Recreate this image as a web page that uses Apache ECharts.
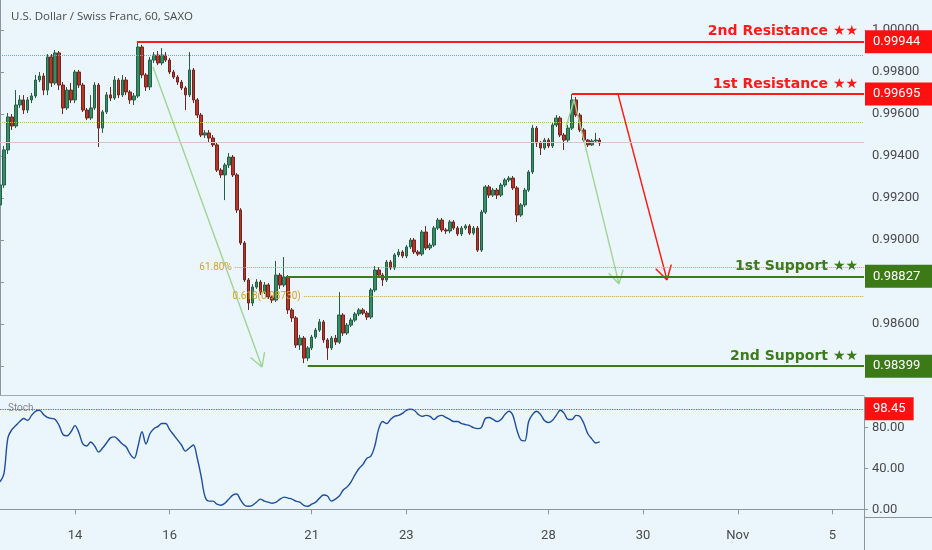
<!DOCTYPE html>
<html><head><meta charset="utf-8">
<script src="https://cdn.jsdelivr.net/npm/echarts@6/dist/echarts.min.js"></script>
<style>html,body{margin:0;padding:0;background:#eaf6fc}#c{width:932px;height:550px}</style>
</head><body><div id="c"></div>
<script>
// ---- time axis (2-hour slots, trading days only) ----
const tradingDays = ['Oct 10','Oct 11','Oct 14','Oct 15','Oct 16','Oct 17','Oct 18','Oct 21','Oct 22','Oct 23','Oct 24','Oct 25','Oct 28','Oct 29','Oct 30','Oct 31','Nov 1','Nov 4','Nov 5','Nov 6'];
const firstHour = 10;
const slotHours = 2;
const slotCount = 220;
const tickDays = ['Oct 14','Oct 16','Oct 21','Oct 23','Oct 28','Oct 30','Nov 1','Nov 5'];
const tickLabels = ['14','16','21','23','28','30','Nov','5'];
const priceTicks = [0.984,0.986,0.988,0.990,0.992,0.994,0.996,0.998,1.000];
const stochTicks = [0,40,80];

// ---- USDCHF candles [open, close, low, high] ----
const candles = [
[0.99167,0.99262,0.99143,0.99281],[0.99262,0.99429,0.99248,0.99448],[0.99429,0.99586,0.99410,0.99605],[0.99586,0.99543,0.99524,0.99600],
[0.99543,0.99643,0.99533,0.99714],[0.99643,0.99667,0.99629,0.99690],[0.99667,0.99619,0.99600,0.99690],[0.99619,0.99667,0.99605,0.99681],
[0.99667,0.99686,0.99652,0.99700],[0.99686,0.99762,0.99676,0.99786],[0.99762,0.99781,0.99752,0.99800],[0.99781,0.99714,0.99690,0.99795],
[0.99714,0.99872,0.99690,0.99886],[0.99872,0.99748,0.99729,0.99886],[0.99748,0.99891,0.99738,0.99905],[0.99891,0.99738,0.99714,0.99900],
[0.99738,0.99629,0.99600,0.99752],[0.99629,0.99714,0.99619,0.99729],[0.99714,0.99667,0.99652,0.99748],[0.99667,0.99800,0.99652,0.99810],
[0.99800,0.99738,0.99724,0.99810],[0.99738,0.99619,0.99610,0.99748],[0.99619,0.99581,0.99571,0.99629],[0.99581,0.99629,0.99571,0.99690],
[0.99629,0.99738,0.99619,0.99752],[0.99738,0.99533,0.99443,0.99748],[0.99533,0.99610,0.99510,0.99619],[0.99610,0.99691,0.99600,0.99705],
[0.99691,0.99676,0.99662,0.99729],[0.99676,0.99762,0.99667,0.99781],[0.99762,0.99691,0.99676,0.99771],[0.99691,0.99762,0.99681,0.99786],
[0.99762,0.99705,0.99690,0.99776],[0.99705,0.99667,0.99648,0.99714],[0.99667,0.99686,0.99643,0.99700],[0.99686,0.99919,0.99676,0.99944],
[0.99919,0.99786,0.99771,0.99929],[0.99786,0.99729,0.99710,0.99795],[0.99729,0.99857,0.99714,0.99872],[0.99857,0.99881,0.99843,0.99895],
[0.99881,0.99843,0.99833,0.99900],[0.99843,0.99881,0.99833,0.99914],[0.99881,0.99857,0.99848,0.99895],[0.99857,0.99800,0.99790,0.99867],
[0.99800,0.99776,0.99767,0.99810],[0.99776,0.99752,0.99738,0.99786],[0.99752,0.99724,0.99714,0.99762],[0.99724,0.99691,0.99619,0.99733],
[0.99691,0.99810,0.99681,0.99895],[0.99810,0.99667,0.99652,0.99819],[0.99667,0.99595,0.99581,0.99676],[0.99595,0.99500,0.99490,0.99605],
[0.99500,0.99510,0.99486,0.99524],[0.99510,0.99486,0.99467,0.99524],[0.99486,0.99453,0.99443,0.99500],[0.99453,0.99333,0.99324,0.99462],
[0.99333,0.99310,0.99295,0.99343],[0.99310,0.99357,0.99190,0.99367],[0.99357,0.99395,0.99343,0.99414],[0.99395,0.99310,0.99300,0.99405],
[0.99310,0.99143,0.99129,0.99319],[0.99143,0.98986,0.98976,0.99152],[0.98986,0.98810,0.98800,0.98995],[0.98810,0.98700,0.98667,0.98819],
[0.98700,0.98776,0.98686,0.98790],[0.98776,0.98800,0.98767,0.98814],[0.98800,0.98752,0.98738,0.98810],[0.98752,0.98786,0.98743,0.98800],
[0.98786,0.98729,0.98719,0.98795],[0.98729,0.98714,0.98700,0.98738],[0.98714,0.98833,0.98705,0.98900],[0.98833,0.98786,0.98767,0.98843],
[0.98786,0.98824,0.98776,0.98919],[0.98824,0.98667,0.98648,0.98833],[0.98667,0.98629,0.98610,0.98676],[0.98629,0.98500,0.98486,0.98638],
[0.98500,0.98533,0.98476,0.98548],[0.98533,0.98438,0.98414,0.98543],[0.98438,0.98486,0.98424,0.98495],[0.98486,0.98538,0.98476,0.98548],
[0.98538,0.98571,0.98529,0.98581],[0.98571,0.98610,0.98562,0.98624],[0.98610,0.98524,0.98510,0.98619],[0.98524,0.98486,0.98429,0.98533],
[0.98486,0.98533,0.98476,0.98543],[0.98533,0.98514,0.98500,0.98548],[0.98514,0.98643,0.98505,0.98752],[0.98643,0.98557,0.98543,0.98652],
[0.98557,0.98595,0.98548,0.98605],[0.98595,0.98619,0.98586,0.98629],[0.98619,0.98648,0.98610,0.98657],[0.98648,0.98667,0.98638,0.98676],
[0.98667,0.98652,0.98643,0.98676],[0.98652,0.98633,0.98619,0.98662],[0.98633,0.98762,0.98624,0.98771],[0.98762,0.98857,0.98752,0.98876],
[0.98857,0.98833,0.98824,0.98871],[0.98833,0.98810,0.98781,0.98843],[0.98810,0.98895,0.98800,0.98905],[0.98895,0.98867,0.98857,0.98905],
[0.98867,0.98929,0.98857,0.98938],[0.98929,0.98943,0.98919,0.98957],[0.98943,0.98924,0.98914,0.98952],[0.98924,0.98967,0.98914,0.98976],
[0.98967,0.99000,0.98957,0.99010],[0.99000,0.98943,0.98933,0.99010],[0.98943,0.98933,0.98924,0.98952],[0.98933,0.99038,0.98924,0.99048],
[0.99038,0.98962,0.98952,0.99067],[0.98962,0.98976,0.98952,0.98986],[0.98976,0.99057,0.98967,0.99067],[0.99057,0.99095,0.99048,0.99105],
[0.99095,0.99048,0.99038,0.99105],[0.99048,0.99043,0.99029,0.99057],[0.99043,0.99086,0.99033,0.99095],[0.99086,0.99057,0.99048,0.99095],
[0.99057,0.99029,0.99019,0.99067],[0.99029,0.99057,0.99019,0.99067],[0.99057,0.99067,0.99048,0.99076],[0.99067,0.99033,0.99024,0.99076],
[0.99033,0.99057,0.99024,0.99067],[0.99057,0.98952,0.98943,0.99067],[0.98952,0.99133,0.98943,0.99143],[0.99133,0.99253,0.99124,0.99262],
[0.99253,0.99214,0.99200,0.99262],[0.99214,0.99238,0.99205,0.99248],[0.99238,0.99214,0.99195,0.99248],[0.99214,0.99262,0.99205,0.99272],
[0.99262,0.99286,0.99252,0.99295],[0.99286,0.99295,0.99276,0.99305],[0.99295,0.99248,0.99238,0.99305],[0.99248,0.99119,0.99086,0.99257],
[0.99119,0.99167,0.99110,0.99176],[0.99167,0.99238,0.99157,0.99248],[0.99238,0.99324,0.99229,0.99333],[0.99324,0.99533,0.99314,0.99548],
[0.99533,0.99462,0.99443,0.99543],[0.99462,0.99438,0.99405,0.99472],[0.99438,0.99476,0.99429,0.99486],[0.99476,0.99448,0.99438,0.99486],
[0.99448,0.99548,0.99438,0.99557],[0.99548,0.99581,0.99538,0.99595],[0.99581,0.99500,0.99490,0.99590],[0.99500,0.99476,0.99429,0.99510],
[0.99476,0.99533,0.99467,0.99548],[0.99533,0.99667,0.99524,0.99695],[0.99667,0.99595,0.99586,0.99681],[0.99595,0.99524,0.99514,0.99605],
[0.99524,0.99476,0.99467,0.99533],[0.99476,0.99453,0.99443,0.99481],[0.99453,0.99472,0.99448,0.99481],[0.99472,0.99476,0.99462,0.99510],
[0.99476,0.99462,0.99448,0.99486]
];

// ---- Stochastic %K ----
const stoch = [27,35,70,78,82,86,89,87,92,96,97,93,90,89,88,82,73,72,76,82,75,64,62,66,62,56,60,65,70,71,
68,64,61,54,50,62,76,64,74,79,81,84,84,78,73,68,63,57,60,63,50,32,12,8,8,5,4,6,10,14,
15,9,4,3,4,7,10,8,7,6,7,10,12,11,10,8,7,4,3,5,7,11,14,13,8,10,13,19,22,27,
34,40,44,50,52,62,79,86,84,88,91,92,94,97,98,97,93,91,92,91,88,91,92,90,88,86,86,84,83,82,
80,79,80,89,90,88,86,88,93,96,92,78,68,67,86,93,96,93,87,85,87,92,97,94,88,88,92,91,84,74,69,65,66];
const stochMark = 98.45;

// ---- drawn levels / annotations (slot index, price) ----
const levelNames = ['2nd Resistance ★★','1st Resistance ★★','1st Support ★★','2nd Support ★★'];
const levelValues = [0.99944,0.99695,0.98827,0.98399];
const levelStart = [34.7,145,72.5,78];
const dottedBlue = 0.99881;
const dottedGreen = 0.99562;
const lastPrice = 0.99467;
const fibNames = ['61.80%','0.618(0.98730)'];
const fibValues = [0.98871,0.98733];
const fibStart = [59.5,77];
const arrowGreen1 = [[38.78,0.99824],[66.41,0.98395],[67.07,0.98466],[66.41,0.98395],[63.50,0.98441]];
const arrowGreen2 = [[143.47,0.99538],[145.5,0.99667],[156.9,0.98791],[157.97,0.98859],[156.9,0.98791],[154.27,0.98842]];
const arrowRed = [[156.65,0.99695],[169.07,0.98810],[170.14,0.98883],[169.07,0.98810],[166.21,0.98863]];

// ---- build ----
const categories = [];
{ let d = 0, h = firstHour;
  while (categories.length < slotCount) {
    categories.push(tradingDays[d] + ' ' + String(h).padStart(2,'0') + ':00');
    h += slotHours; if (h >= 24) { h = 0; d++; }
  } }
const dayOf = v => v.slice(0, v.lastIndexOf(' '));
const isTick = (i, v) => v.endsWith(' 00:00') && tickDays.includes(dayOf(v));
const lastSlot = slotCount - 1;

const RED = '#ff1a1a', GREEN = '#3d7b1b', GOLD = '#d2a22a';
const FONT = 'Roboto, sans-serif';

const levelLines = [];
levelNames.forEach((n, i) => {
  const col = i < 2 ? RED : GREEN;
  const boxCol = i < 2 ? '#ff1010' : '#3b7a16';
  levelLines.push([
    {coord:[levelStart[i], levelValues[i]], lineStyle:{color:col, width:2, type:'solid'},
     label:{show:true, position:'insideEndTop', formatter:n, color:col, fontSize:14, fontWeight:'bold', fontFamily:'DejaVu Sans', distance:[6,3]}},
    {coord:[lastSlot, levelValues[i]]}
  ]);
  levelLines.push([
    {coord:[levelStart[i], levelValues[i]], lineStyle:{color:'rgba(0,0,0,0)', width:0, opacity:1},
     label:{show:true, position:'end', formatter:levelValues[i].toFixed(5), color:'#fff', backgroundColor:boxCol, opacity:1,
            fontSize:13, fontFamily:FONT, padding:[5,12,5,8], distance:1}},
    {coord:[lastSlot, levelValues[i]]}
  ]);
});
fibNames.forEach((n, i) => {
  levelLines.push([
    {coord:[fibStart[i], fibValues[i]], lineStyle:{color:GOLD, width:1, type:'dotted'},
     label:{show:true, position:'start', formatter:n, color:GOLD, fontSize:10, fontFamily:FONT, distance:3}},
    {coord:[lastSlot, fibValues[i]]}
  ]);
});
const fullLines = [
  {yAxis: dottedBlue, lineStyle:{color:'#6ea6dc', width:1, type:'dotted'}, label:{show:false}},
  {yAxis: dottedGreen, lineStyle:{color:'#a9c83a', width:1, type:'dotted'}, label:{show:false}},
  {yAxis: lastPrice, lineStyle:{color:'#d8c4c4', width:1.2, type:'solid'}, label:{show:false}}
];

const chart = echarts.init(document.getElementById('c'), null, {renderer:'canvas'});
chart.setOption({
  backgroundColor:'#eaf6fc',
  animation:false,
  title:{text:'U.S. Dollar / Swiss Franc, 60, SAXO', left:6, top:6,
         textStyle:{fontSize:11.5, fontWeight:'normal', color:'#4a4a4a', fontFamily:'Open Sans, sans-serif'}},
  grid:[
    {left:0, top:0, width:864, height:395},
    {left:0, top:397, width:864, height:120}
  ],
  xAxis:[
    {type:'category', gridIndex:0, data:categories, boundaryGap:false,
     axisLine:{lineStyle:{color:'#a3abb2'}}, axisTick:{show:false}, axisLabel:{show:false}, splitLine:{show:false}},
    {type:'category', gridIndex:1, data:categories, boundaryGap:false,
     axisLine:{lineStyle:{color:'#8c959c'}},
     axisTick:{show:true, interval:isTick, length:5, lineStyle:{color:'#8c959c'}},
     axisLabel:{show:true, interval:isTick, formatter:v => tickLabels[tickDays.indexOf(dayOf(v))],
                color:'#4a4a4a', fontSize:13, fontFamily:FONT, margin:12},
     splitLine:{show:false}},
    {type:'value', gridIndex:0, min:0, max:lastSlot, show:false}
  ],
  yAxis:[
    {type:'value', gridIndex:0, position:'right', min:0.98262, max:1.00143,
     axisLine:{show:true, lineStyle:{color:'#8c959c'}},
     axisTick:{show:true, customValues:priceTicks, length:4, lineStyle:{color:'#8c959c'}},
     axisLabel:{show:true, customValues:priceTicks, formatter:v => v.toFixed(5), color:'#4a4a4a', fontSize:13, fontFamily:FONT, margin:8},
     splitLine:{show:false}},
    {type:'value', gridIndex:1, position:'right', min:-7.5, max:110,
     axisLine:{show:true, lineStyle:{color:'#8c959c'}},
     axisTick:{show:true, customValues:stochTicks, length:4, lineStyle:{color:'#8c959c'}},
     axisLabel:{show:true, customValues:stochTicks, formatter:v => v.toFixed(2), color:'#4a4a4a', fontSize:13, fontFamily:FONT, margin:8},
     splitLine:{show:false}}
  ],
  series:[
    {type:'line', xAxisIndex:2, yAxisIndex:0, data:arrowGreen1, symbol:'none', z:1,
     lineStyle:{color:'#9fd494', width:1.4},
     markLine:{silent:true, symbol:'none', animation:false, precision:5, data:fullLines.concat(levelLines)}},
    {type:'candlestick', xAxisIndex:0, yAxisIndex:0, data:candles, barWidth:3.1, z:3,
     itemStyle:{color:'#358f66', color0:'#b93327', borderColor:'#265f46', borderColor0:'#6e2620', borderWidth:1}},
    {type:'line', xAxisIndex:2, yAxisIndex:0, data:arrowGreen2, symbol:'none', z:4,
     lineStyle:{color:'#9fd494', width:1.4}},
    {type:'line', xAxisIndex:2, yAxisIndex:0, data:arrowRed, symbol:'none', z:4,
     lineStyle:{color:'#ff1a1a', width:1.5}},
    {type:'line', xAxisIndex:1, yAxisIndex:1, data:stoch, symbol:'none', smooth:0.35,
     lineStyle:{color:'#1f4e9c', width:1.4},
     markLine:{silent:true, symbol:'none', animation:false, precision:2,
       data:[{yAxis:stochMark, lineStyle:{color:'#ff2b2b', width:1.2, type:'dotted'},
              label:{show:true, position:'end', formatter:stochMark.toFixed(2), color:'#fff', backgroundColor:'#ff1010',
                     fontSize:13, fontFamily:FONT, padding:[5,8,5,8], distance:1}}]}}
  ],
  graphic:[
    {type:'text', left:8, top:403, style:{text:'Stoch', fill:'#8a8a8a', fontSize:10, fontFamily:FONT}},
    {type:'line', shape:{x1:864.5, y1:517, x2:864.5, y2:550}, style:{stroke:'#8c959c', lineWidth:1}},
    {type:'line', shape:{x1:864, y1:517.5, x2:932, y2:517.5}, style:{stroke:'#8c959c', lineWidth:1}}
  ]
});
</script></body></html>
